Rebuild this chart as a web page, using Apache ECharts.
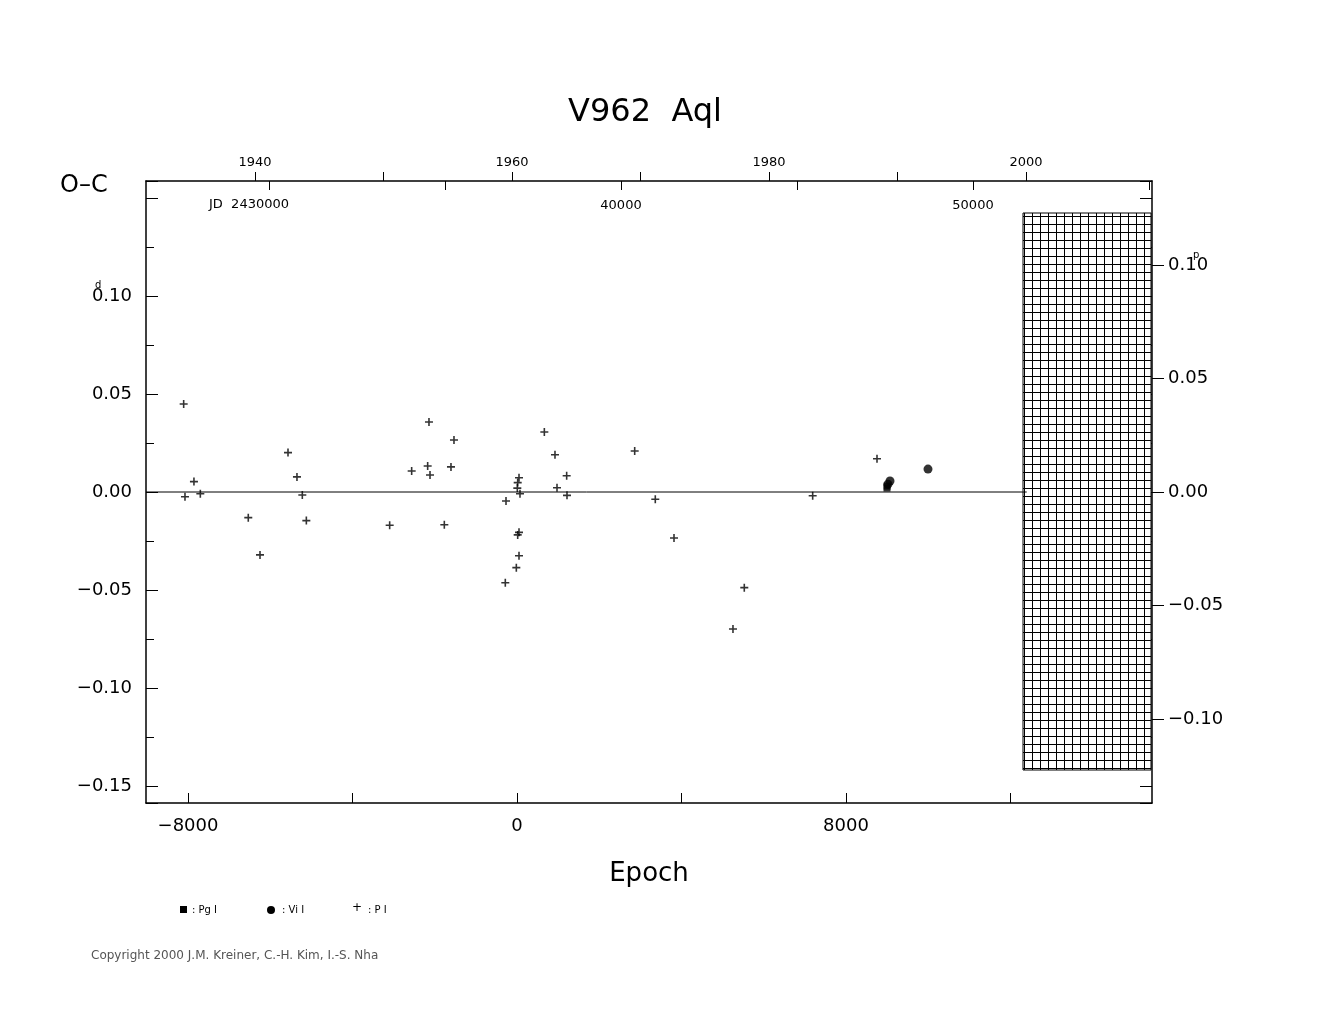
<!DOCTYPE html>
<html><head><meta charset="utf-8">
<script src="https://cdn.jsdelivr.net/npm/echarts@6/dist/echarts.min.js"></script>
<style>html,body{margin:0;background:#fff}#c{width:1325px;height:1020px}</style>
</head><body><div id="c"></div>
<script>
const plusE=[-8105,-8073,-7855,-7700,-6534,-6249,-5568,-5350,-5220,-5122,-3096,-2561,-2140,-2172,-2115,-1767,-1605,-1532,665,924,1208,973,1216,49,17,8,73,-267,49,17,49,-16,-284,2862,3363,3818,5527,5252,7190,8754];
const plusOC=[0.0449,-0.0024,0.0053,-0.0009,-0.0131,-0.0321,0.0201,0.0077,-0.0015,-0.0146,-0.0170,0.0107,0.0357,0.0133,0.0087,-0.0167,0.0128,0.0265,0.0306,0.0190,0.0083,0.0022,-0.0017,0.0073,0.0048,0.0020,-0.0009,-0.0046,-0.0206,-0.0219,-0.0325,-0.0386,-0.0463,0.0209,-0.0037,-0.0235,-0.0488,-0.0699,-0.0019,0.0170];
const pgE=[8997,9000];const pgOC=[0.002,0.003];
const viE=[9070,9021,9994];const viOC=[0.0056,0.004,0.0117];
const epochTicks=[-8000,-4000,0,4000,8000,12000];
const epochLabels=[-8000,0,8000];
const yearTicks=[1940,1950,1960,1970,1980,1990,2000];
const yearLabels=[1940,1960,1980,2000];
const jdTicks=[30000,35000,40000,45000,50000,55000];
const jdLabels=[40000,50000];
const ocLabels=[-0.15,-0.10,-0.05,0,0.05,0.10];
const phLabels=[-0.10,-0.05,0,0.05,0.10];
const xMin=-9021,xMax=15441,yLim=0.1587,pLim=0.137,zeroEnd=12395;
const yrMin=1931.52,yrMax=2009.81,jdMin=26506,jdMax=55085;
const fmt=v=>(v<0?'\u2212':'')+Math.abs(v).toFixed(2);
const font='DejaVu Sans';
const ch=echarts.init(document.getElementById('c'));
const pc=document.createElement('canvas');pc.width=8;pc.height=8;
const g=pc.getContext('2d');g.fillStyle='#fff';g.fillRect(0,0,8,8);g.strokeStyle='#000';g.lineWidth=1;
g.beginPath();g.moveTo(0.5,0);g.lineTo(0.5,8);g.moveTo(0,0.5);g.lineTo(8,0.5);g.stroke();
const pair=(a,b)=>a.map((v,i)=>[v,b[i]]);
const line={onZero:false,lineStyle:{color:'#000',width:1.5}};
ch.setOption({
 animation:false,
 grid:{left:146,top:181,width:1006,height:622,show:false},
 title:{text:'V962  Aql',left:640,top:92,textAlign:'center',textStyle:{fontFamily:font,fontSize:32,fontWeight:'normal',color:'#000'}},
 xAxis:[
  {type:'value',min:xMin,max:xMax,position:'bottom',splitLine:{show:false},axisLine:line,
   axisTick:{inside:true,length:10,customValues:epochTicks,lineStyle:{color:'#000'}},
   axisLabel:{customValues:epochLabels,formatter:v=>(v<0?'\u2212':'')+Math.abs(v),fontFamily:font,fontSize:18,color:'#000',margin:14},
   name:'Epoch',nameLocation:'middle',nameGap:58,nameTextStyle:{fontFamily:font,fontSize:26,color:'#000'}},
  {type:'value',min:yrMin,max:yrMax,position:'top',splitLine:{show:false},axisLine:line,
   axisTick:{inside:false,length:9,customValues:yearTicks,lineStyle:{color:'#000'}},
   axisLabel:{customValues:yearLabels,formatter:v=>String(v),fontFamily:font,fontSize:13,color:'#000',margin:12}},
  {type:'value',min:jdMin,max:jdMax,position:'top',splitLine:{show:false},axisLine:{show:false,onZero:false},
   axisTick:{inside:true,length:9,customValues:jdTicks,lineStyle:{color:'#000'}},
   axisLabel:{inside:true,customValues:jdLabels,formatter:v=>String(v),fontFamily:font,fontSize:13,color:'#000',margin:18}}
 ],
 yAxis:[
  {type:'value',min:-yLim,max:yLim,splitNumber:6,position:'left',splitLine:{show:false},axisLine:line,
   axisTick:{inside:true,length:12,lineStyle:{color:'#000'}},
   minorTick:{show:true,splitNumber:2,length:8,lineStyle:{color:'#000'}},
   axisLabel:{customValues:ocLabels,formatter:fmt,fontFamily:font,fontSize:18,color:'#000',margin:14}},
  {type:'value',min:-yLim,max:yLim,splitNumber:6,position:'right',splitLine:{show:false},axisLine:line,
   axisTick:{inside:true,length:12,lineStyle:{color:'#000'}},
   minorTick:{show:true,splitNumber:2,length:8,lineStyle:{color:'#000'}},
   axisLabel:{show:false}},
  {type:'value',min:-pLim,max:pLim,position:'right',splitLine:{show:false},axisLine:{show:false,onZero:false},
   axisTick:{inside:false,length:12,customValues:phLabels,lineStyle:{color:'#000'}},
   axisLabel:{customValues:phLabels,formatter:fmt,fontFamily:font,fontSize:18,color:'#000',margin:16}}
 ],
 series:[
  {type:'line',data:[[xMin,0],[zeroEnd,0]],symbol:'none',lineStyle:{color:'#000',width:1},silent:true},
  {type:'scatter',data:pair(plusE,plusOC),symbol:'path://M-1,-0.2L1,-0.2L1,0.2L-1,0.2Z M-0.2,-1L0.2,-1L0.2,1L-0.2,1Z',symbolSize:8,itemStyle:{color:'#000'}},
  {type:'scatter',data:pair(pgE,pgOC),symbol:'rect',symbolSize:7,itemStyle:{color:'#000'}},
  {type:'scatter',data:pair(viE,viOC),symbol:'circle',symbolSize:9,itemStyle:{color:'#000'}}
 ],
 graphic:[
  {type:'rect',shape:{x:1023,y:213,width:128,height:557},style:{fill:{image:pc,repeat:'repeat'},stroke:'#000'},z:1},
  {type:'text',left:60,top:174,style:{text:'O\u2013C',font:'24px "DejaVu Sans"',fill:'#000'}},
  {type:'text',left:209,top:198,style:{text:'JD  2430000',font:'13px "DejaVu Sans"',fill:'#000'}},
  {type:'text',left:95,top:280,style:{text:'d',font:'10px "DejaVu Sans"',fill:'#000'}},
  {type:'text',left:1193,top:250,style:{text:'p',font:'10px "DejaVu Sans"',fill:'#000'}},
  {type:'rect',shape:{x:180,y:906,width:7,height:7},style:{fill:'#000'}},
  {type:'text',left:192,top:905,style:{text:': Pg I',font:'10px "DejaVu Sans"',fill:'#000'}},
  {type:'circle',shape:{cx:271,cy:910,r:4},style:{fill:'#000'}},
  {type:'text',left:282,top:905,style:{text:': Vi I',font:'10px "DejaVu Sans"',fill:'#000'}},
  {type:'text',left:352,top:902,style:{text:'+',font:'12px "DejaVu Sans"',fill:'#000'}},
  {type:'text',left:368,top:905,style:{text:': P I',font:'10px "DejaVu Sans"',fill:'#000'}},
  {type:'text',left:91,top:950,style:{text:'Copyright 2000 J.M. Kreiner, C.-H. Kim, I.-S. Nha',font:'12px "DejaVu Sans"',fill:'#555'}}
 ]
});
</script></body></html>
